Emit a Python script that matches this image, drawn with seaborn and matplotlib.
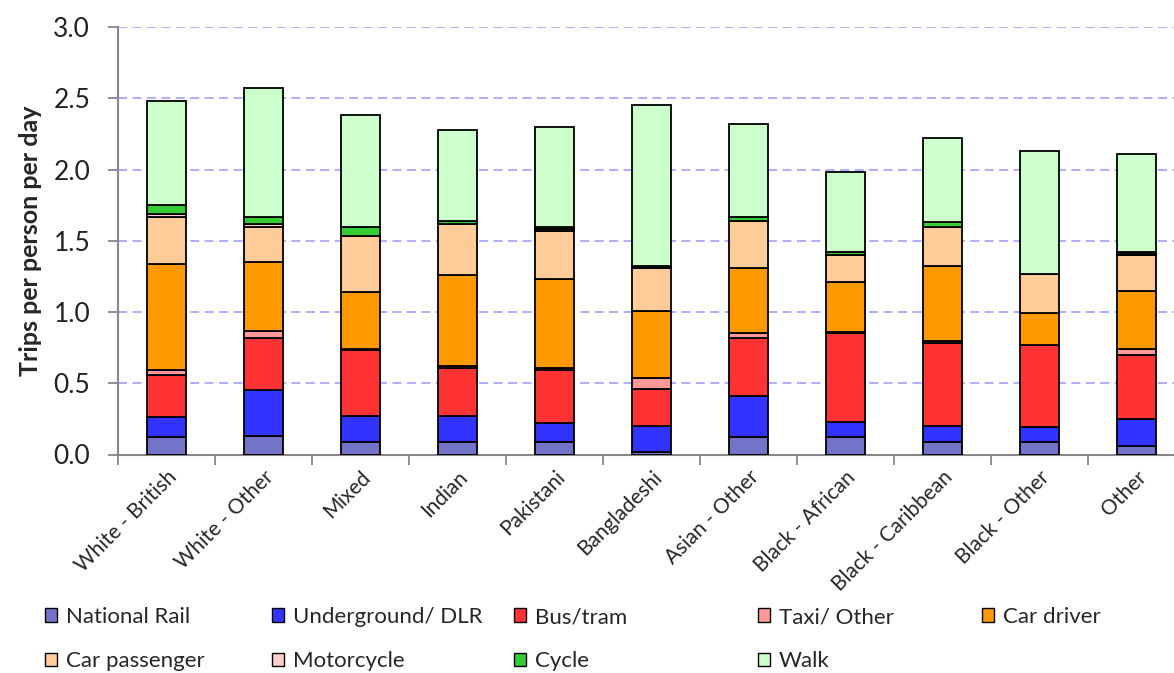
import matplotlib
matplotlib.use("Agg")
import matplotlib.pyplot as plt
from matplotlib.patches import Patch
from matplotlib.ticker import MultipleLocator, FixedLocator
import numpy as np
import seaborn as sns

# Trips per person per day by ethnic group, split by main mode
groups = ["White - British", "White - Other", "Mixed", "Indian", "Pakistani",
          "Bangladeshi", "Asian - Other", "Black - African", "Black - Caribbean",
          "Black - Other", "Other"]

national_rail  = [0.12, 0.13, 0.09, 0.09, 0.09, 0.02, 0.12, 0.12, 0.09, 0.09, 0.06]
underground    = [0.14, 0.32, 0.18, 0.18, 0.13, 0.18, 0.29, 0.11, 0.11, 0.10, 0.19]
bus_tram       = [0.30, 0.37, 0.46, 0.34, 0.37, 0.26, 0.41, 0.62, 0.58, 0.58, 0.45]
taxi_other     = [0.03, 0.05, 0.01, 0.01, 0.02, 0.08, 0.03, 0.01, 0.02, 0.00, 0.04]
car_driver     = [0.75, 0.48, 0.40, 0.64, 0.62, 0.47, 0.46, 0.35, 0.52, 0.22, 0.41]
car_passenger  = [0.33, 0.25, 0.39, 0.36, 0.34, 0.30, 0.33, 0.19, 0.28, 0.28, 0.25]
motorcycle     = [0.02, 0.02, 0.00, 0.00, 0.01, 0.00, 0.00, 0.00, 0.00, 0.00, 0.01]
cycle          = [0.06, 0.05, 0.07, 0.02, 0.02, 0.01, 0.03, 0.02, 0.03, 0.00, 0.01]
walk           = [0.73, 0.90, 0.78, 0.64, 0.70, 1.13, 0.65, 0.56, 0.59, 0.86, 0.69]

modes = ["National Rail", "Underground/ DLR", "Bus/tram", "Taxi/ Other", "Car driver",
         "Car passenger", "Motorcycle", "Cycle", "Walk"]
series = [national_rail, underground, bus_tram, taxi_other, car_driver,
          car_passenger, motorcycle, cycle, walk]
colors = ["#7373C8", "#3333FF", "#FF3333", "#FF9999", "#FF9900",
          "#FFCC99", "#FFCCCC", "#33CC33", "#CCFFCC"]

sns.set_style("white")
plt.rcParams["font.family"] = ["Lato", "DejaVu Sans"]

W, H = 1174, 673
fig = plt.figure(figsize=(W / 100, H / 100), dpi=100)
ax = fig.add_axes([118 / W, 1 - 454.5 / H, 1067 / W, 427.5 / H])

bottom = np.zeros(len(groups))
for name, vals, col in zip(modes, series, colors):
    vals = np.asarray(vals, dtype=float)
    sns.barplot(x=groups, y=vals, bottom=bottom, color=col, saturation=1,
                width=0.41, edgecolor="black", linewidth=1.3, ax=ax, zorder=3)
    bottom = bottom + vals

ax.set_xlim(-0.5, len(groups) - 0.5)
ax.set_ylim(0, 3.0)
ax.yaxis.set_major_locator(MultipleLocator(0.5))
ax.yaxis.set_major_formatter(matplotlib.ticker.FormatStrFormatter("%.1f"))

ax.set_axisbelow(True)
ax.yaxis.grid(True, color="#A8A8FF", linestyle=(0, (5, 3)), linewidth=1.3)
ax.xaxis.grid(False)

for side in ("top", "right"):
    ax.spines[side].set_visible(False)
for side in ("left", "bottom"):
    ax.spines[side].set_color("#888888")
    ax.spines[side].set_linewidth(1.5)

ax.tick_params(axis="y", which="major", length=7, width=1.3, color="#888888",
               direction="out", left=True, pad=13, labelsize=19, labelcolor="#222222")
ax.tick_params(axis="x", which="major", length=0, pad=9, labelsize=15)
ax.xaxis.set_minor_locator(FixedLocator(np.arange(-0.5, len(groups) + 0.5, 1.0)))
ax.tick_params(axis="x", which="minor", length=7, width=1.3, color="#888888",
               direction="out", bottom=True)

for lab in ax.get_xticklabels():
    lab.set_rotation(45)
    lab.set_ha("right")
    lab.set_rotation_mode("anchor")

ax.set_xlabel("")
ax.set_ylabel("Trips per person per day", fontsize=18, fontweight="bold", labelpad=8)

# Legend laid out as a 5-column grid below the plot
col_x = [45, 272, 514, 758, 982]
columns = [[0, 5], [1, 6], [2, 7], [3, 8], [4]]
for cx, idxs in zip(col_x, columns):
    handles = [Patch(facecolor=colors[i], edgecolor="black", linewidth=1.0, label=modes[i])
               for i in idxs]
    fig.legend(handles=handles, loc="upper left",
               bbox_to_anchor=(cx / W, 1 - 607 / H),
               frameon=False, fontsize=16, borderpad=0, borderaxespad=0,
               handlelength=0.55, handleheight=0.55, handletextpad=0.4,
               labelspacing=1.1)

fig.savefig("out.png", dpi=100)
